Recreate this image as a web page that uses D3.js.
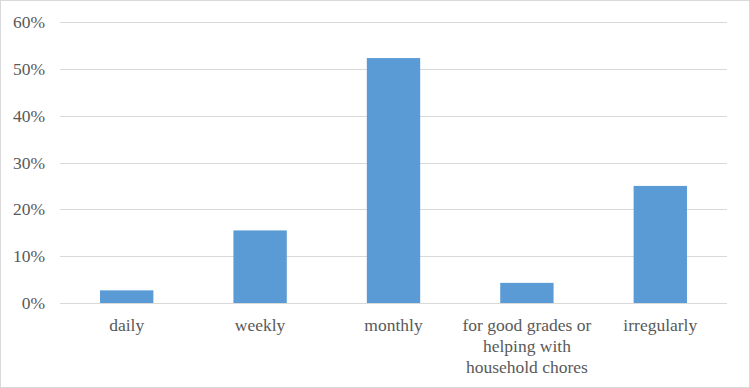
<!DOCTYPE html>
<html>
<head>
<meta charset="utf-8">
<script src="https://cdn.jsdelivr.net/npm/d3@7"></script>
<style>
  body { margin: 0; background: #fff; }
  text { font-family: "Liberation Serif", "Times New Roman", serif; fill: #595959; }
</style>
</head>
<body>
<div id="chart"></div>
<script>
// chart data
const categories = ["daily", "weekly", "monthly", "for good grades or helping with household chores", "irregularly"];
const categoryLines = [["daily"], ["weekly"], ["monthly"], ["for good grades or", "helping with", "household chores"], ["irregularly"]];
const values = [0.027, 0.155, 0.523, 0.043, 0.25];
const yTicks = [0, 0.1, 0.2, 0.3, 0.4, 0.5, 0.6];

const W = 750, H = 388;
const margin = {top: 22, right: 23, bottom: 85, left: 60};
const width = W - margin.left - margin.right;
const height = H - margin.top - margin.bottom;

const svg = d3.select("#chart").append("svg")
  .attr("width", W)
  .attr("height", H);

// outer border
svg.append("rect")
  .attr("x", 0.5).attr("y", 0.5)
  .attr("width", W - 1).attr("height", H - 1)
  .attr("fill", "#fff")
  .attr("stroke", "#d9d9d9");

const g = svg.append("g")
  .attr("transform", "translate(" + margin.left + "," + margin.top + ")");

const x = d3.scaleBand()
  .domain(categories)
  .range([0, width])
  .paddingInner(0.6)
  .paddingOuter(0.3);

const y = d3.scaleLinear()
  .domain([0, 0.6])
  .range([height, 0]);

// gridlines
g.append("g")
  .selectAll("line")
  .data(yTicks)
  .join("line")
  .attr("x1", 0).attr("x2", width)
  .attr("y1", d => Math.round(y(d)) + 0.5)
  .attr("y2", d => Math.round(y(d)) + 0.5)
  .attr("stroke", "#d9d9d9")
  .attr("stroke-width", 1);

// y labels
const yAxis = d3.axisLeft(y)
  .tickValues(yTicks)
  .tickFormat(d3.format(".0%"))
  .tickSize(0)
  .tickPadding(15);

g.append("g")
  .call(yAxis)
  .call(a => a.select(".domain").remove())
  .selectAll("text")
  .style("font-size", "17.5px")
  .style("font-family", "Liberation Serif, serif")
  .attr("fill", "#595959");

// bars
g.append("g")
  .selectAll("rect")
  .data(values)
  .join("rect")
  .attr("x", (d, i) => x(categories[i]))
  .attr("y", d => y(d))
  .attr("width", x.bandwidth())
  .attr("height", d => height - y(d))
  .attr("fill", "#5b9bd5");

// x labels
const xl = g.append("g")
  .selectAll("text")
  .data(categories)
  .join("text")
  .attr("x", d => x(d) + x.bandwidth() / 2)
  .attr("y", height + 28)
  .attr("text-anchor", "middle")
  .style("font-size", "17.5px");

xl.selectAll("tspan")
  .data((d, i) => categoryLines[i])
  .join("tspan")
  .attr("x", function() { return this.parentNode.getAttribute("x"); })
  .attr("dy", (d, i) => i === 0 ? 0 : 21)
  .text(d => d);
</script>
</body>
</html>
